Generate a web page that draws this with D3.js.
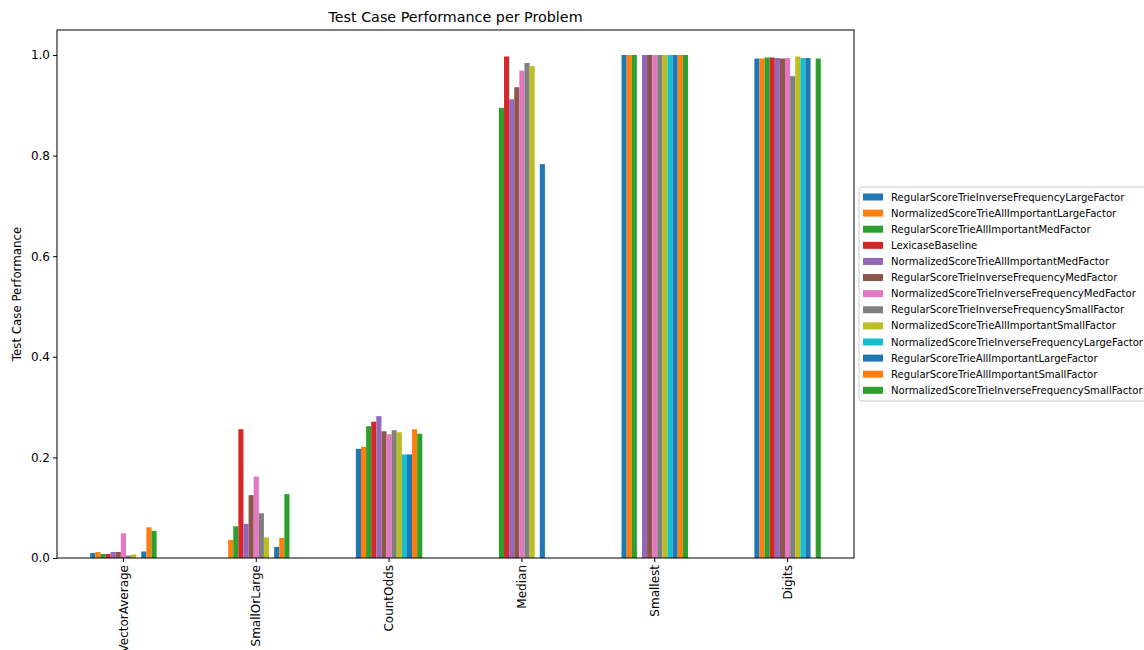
<!DOCTYPE html>
<html>
<head>
<meta charset="utf-8">
<script src="https://cdn.jsdelivr.net/npm/d3@7"></script>
<style>
body { margin:0; background:#fff; }
text { font-family: "DejaVu Sans", sans-serif; fill:#000; }
</style>
</head>
<body>
<div id="chart"></div>
<script>

var problems = ["VectorAverage","SmallOrLarge","CountOdds","Median","Smallest","Digits"];

var series = [
	"RegularScoreTrieInverseFrequencyLargeFactor",
	"NormalizedScoreTrieAllImportantLargeFactor",
	"RegularScoreTrieAllImportantMedFactor",
	"LexicaseBaseline",
	"NormalizedScoreTrieAllImportantMedFactor",
	"RegularScoreTrieInverseFrequencyMedFactor",
	"NormalizedScoreTrieInverseFrequencyMedFactor",
	"RegularScoreTrieInverseFrequencySmallFactor",
	"NormalizedScoreTrieAllImportantSmallFactor",
	"NormalizedScoreTrieInverseFrequencyLargeFactor",
	"RegularScoreTrieAllImportantLargeFactor",
	"RegularScoreTrieAllImportantSmallFactor",
	"NormalizedScoreTrieInverseFrequencySmallFactor"
];

// one value per series, in the order above
var vectorAverage = [0.010, 0.012, 0.008, 0.008, 0.012, 0.012, 0.049, 0.005, 0.007, 0, 0.013, 0.061, 0.054];
var smallOrLarge  = [0, 0.036, 0.063, 0.256, 0.068, 0.125, 0.162, 0.089, 0.041, 0, 0.022, 0.040, 0.127];
var countOdds     = [0.217, 0.221, 0.262, 0.271, 0.282, 0.252, 0.246, 0.254, 0.250, 0.206, 0.206, 0.256, 0.247];
var median        = [0, 0, 0.895, 0.997, 0.912, 0.936, 0.969, 0.984, 0.978, 0, 0.783, 0, 0];
var smallest      = [1.0, 1.0, 1.0, 0, 1.0, 1.0, 1.0, 1.0, 1.0, 1.0, 1.0, 1.0, 1.0];
var digits        = [0.993, 0.993, 0.995, 0.995, 0.994, 0.993, 0.994, 0.958, 0.997, 0.994, 0.994, 0, 0.993];

var values = [vectorAverage, smallOrLarge, countOdds, median, smallest, digits];

var yTicks = [0, 0.2, 0.4, 0.6, 0.8, 1.0];

var colors = ["#1f77b4","#ff7f0e","#2ca02c","#d62728","#9467bd","#8c564b",
	"#e377c2","#7f7f7f","#bcbd22","#17becf","#1f77b4","#ff7f0e","#2ca02c"];

var W = 1144, H = 650;
var margin = {l:57, r:290, t:30, b:92};

var svg = d3.select("#chart").append("svg")
	.attr("width", W).attr("height", H);

var X = d3.scaleBand().domain(problems)
	.range([margin.l, W-margin.r])
	.paddingInner(0.5).paddingOuter(0.25);

var X1 = d3.scaleBand().domain(d3.range(series.length))
	.range([0, X.bandwidth()]);

var Y = d3.scaleLinear().domain([0, 1.0497]).range([H-margin.b, margin.t]);

var color = d3.scaleOrdinal().domain(d3.range(series.length)).range(colors);

var groups = svg.selectAll(".group").data(problems).enter().append("g")
	.attr("class","group")
	.attr("transform", function(d){ return "translate("+X(d)+",0)"; });

groups.selectAll("rect").data(function(d,i){
		return values[i].map(function(v,j){ return {s:j, v:v}; });
	}).enter().append("rect")
	.attr("x", function(d){ return X1(d.s); })
	.attr("width", X1.bandwidth())
	.attr("y", function(d){ return Y(d.v); })
	.attr("height", function(d){ return Y(0)-Y(d.v); })
	.style("fill", function(d){ return color(d.s); });

// axes
var xAxis = svg.append("g")
	.attr("transform","translate(0,"+(H-margin.b)+")")
	.call(d3.axisBottom(X).tickSize(4).tickSizeOuter(0));
xAxis.selectAll("text")
	.attr("transform","rotate(-90)")
	.attr("x", -7).attr("y", 0).attr("dy","0.35em")
	.style("text-anchor","end");

var yAxis = svg.append("g")
	.attr("transform","translate("+margin.l+",0)")
	.call(d3.axisLeft(Y).tickValues(yTicks).tickFormat(d3.format(".1f")).tickSize(4).tickSizeOuter(0));

svg.selectAll(".tick text").style("font-size","12px").style("font-family","DejaVu Sans");
svg.selectAll(".domain").remove();
svg.selectAll(".tick line").attr("stroke","#000");

// frame
svg.append("rect")
	.attr("x", margin.l).attr("y", margin.t)
	.attr("width", W-margin.r-margin.l).attr("height", H-margin.b-margin.t)
	.style("fill","none").style("stroke","#000").style("stroke-width",1);

svg.append("text")
	.attr("x", (margin.l + W-margin.r)/2).attr("y", 22)
	.attr("text-anchor","middle")
	.style("font-size","14.3px")
	.text("Test Case Performance per Problem");

svg.append("text")
	.attr("transform","translate(21,"+((margin.t+H-margin.b)/2)+") rotate(-90)")
	.attr("text-anchor","middle")
	.style("font-size","11.8px")
	.text("Test Case Performance");

// legend
var lx = 859, ly = 187, rowh = 16.11;
var legend = svg.append("g");
legend.append("rect")
	.attr("x", lx).attr("y", ly)
	.attr("width", 290).attr("height", 214)
	.attr("rx", 3)
	.style("fill","#fff").style("stroke","#ccc");

var items = legend.selectAll(".item").data(series).enter().append("g")
	.attr("class","item")
	.attr("transform", function(d,i){ return "translate("+(lx+4)+","+(ly+10+i*rowh)+")"; });
items.append("rect")
	.attr("x",0).attr("y",-3.5).attr("width",20).attr("height",7)
	.style("fill", function(d,i){ return color(i); });
items.append("text")
	.attr("x", 28).attr("dy","0.35em")
	.style("font-size","10.1px")
	.text(function(d){ return d; });

</script>
</body>
</html>
